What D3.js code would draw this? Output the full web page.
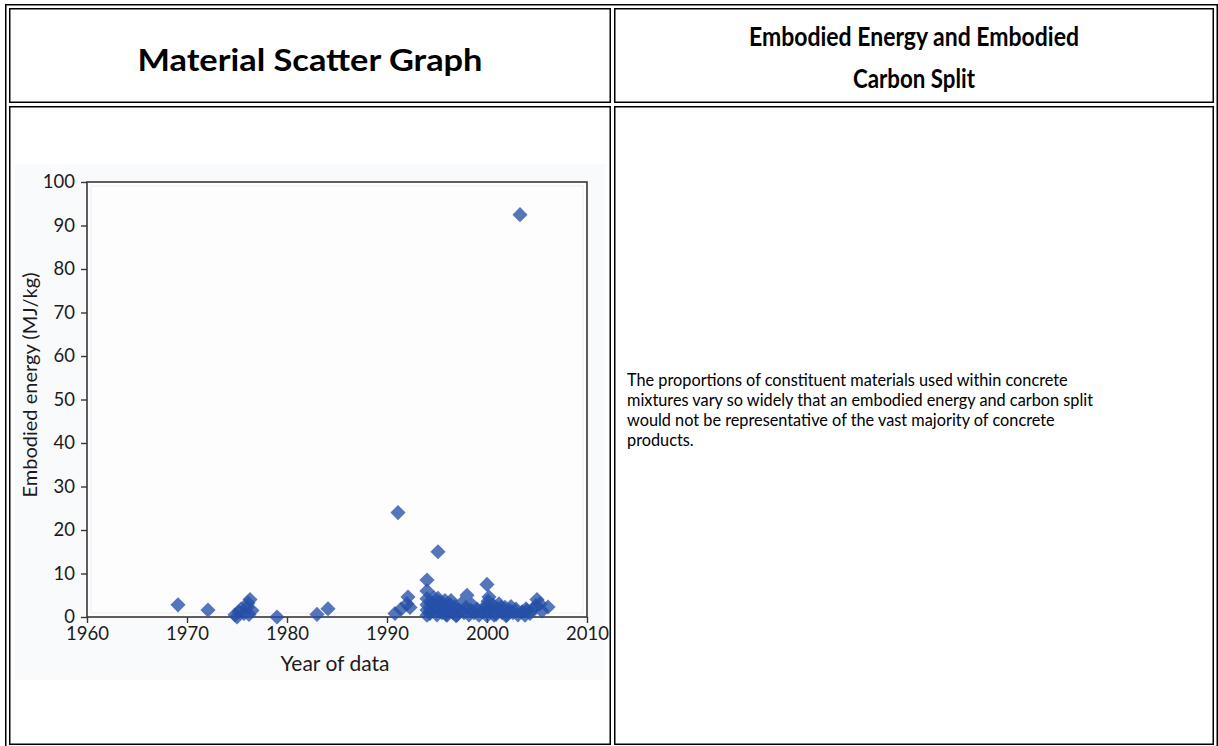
<!DOCTYPE html>
<html>
<head>
<meta charset="utf-8">
<script src="https://cdn.jsdelivr.net/npm/d3@7"></script>
<style>
  html, body { margin: 0; padding: 0; background: #fff; }
  svg { display: block; }
</style>
</head>
<body>
<svg id="page" width="1218" height="746"></svg>
<script>
// data: [year, embodied energy MJ/kg]
const early = [
  [1969.1, 2.8], [1972.1, 1.6],
  [1974.8, 0.5], [1975.0, 0], [1975.2, 1.2], [1975.4, 1.8], [1975.7, 0.8],
  [1976.0, 2.2], [1976.1, 3.2], [1976.3, 4.0], [1976.5, 1.5], [1976.2, 0.6],
  [1979.0, 0], [1983.0, 0.6], [1984.1, 1.9]
];
const nineties = [
  [1990.8, 0.8], [1991.1, 24], [1991.4, 1.8], [1992.0, 3.0], [1992.1, 4.6],
  [1992.3, 2.2],
  [1994.0, 0.4], [1994.0, 1.6], [1994.0, 2.8], [1994.0, 4.2], [1994.0, 6.0],
  [1994.0, 8.5], [1994.3, 0.8], [1994.5, 1.8], [1994.5, 3.2], [1994.7, 4.4],
  [1995.0, 0.5], [1995.0, 1.5], [1995.0, 2.6], [1995.1, 4.3], [1995.1, 15],
  [1995.3, 3.4], [1995.5, 1.0], [1995.6, 2.2], [1995.8, 3.8], [1995.9, 0.6],
  [1996.0, 0.4], [1996.1, 1.6], [1996.3, 2.8], [1996.4, 3.8], [1996.6, 1.0],
  [1996.8, 2.4], [1996.9, 0.3],
  [1997.0, 0.5], [1997.2, 1.6], [1997.4, 3.0], [1997.7, 1.0], [1997.9, 2.2],
  [1998.0, 5.0], [1998.2, 0.5], [1998.4, 1.6], [1998.5, 2.8], [1998.7, 1.0],
  [1999.0, 1.8], [1999.2, 0.4], [1999.5, 1.2], [1999.7, 2.2]
];
const noughties = [
  [2000.0, 0.3], [2000.0, 1.2], [2000.0, 2.4], [2000.1, 3.6], [2000.0, 7.5],
  [2000.2, 4.6], [2000.4, 1.6], [2000.6, 2.8], [2000.7, 0.4], [2000.9, 0.6],
  [2001.0, 1.8], [2001.2, 3.0], [2001.4, 2.2], [2001.5, 1.0], [2001.8, 2.2],
  [2001.9, 0.3], [2002.0, 0.5], [2002.3, 1.5], [2002.4, 2.4], [2002.6, 1.0],
  [2002.9, 1.8], [2003.1, 0.5], [2003.3, 92.5], [2003.5, 1.2], [2003.8, 0.4],
  [2003.9, 1.9], [2004.0, 1.5], [2004.3, 0.8], [2004.6, 1.8], [2004.9, 2.6],
  [2005.0, 4.0], [2005.3, 3.0], [2005.5, 1.4], [2006.1, 2.3]
];
const points = early.concat(nineties, noughties);

const xTicks = [1960, 1970, 1980, 1990, 2000, 2010];
const yTicks = [0, 10, 20, 30, 40, 50, 60, 70, 80, 90, 100];

const headerLeft = ['Material Scatter Graph'];
const headerRight = ['Embodied Energy and Embodied', 'Carbon Split'];
const noteLines = [
  'The proportions of constituent materials used within concrete',
  'mixtures vary so widely that an embodied energy and carbon split',
  'would not be representative of the vast majority of concrete',
  'products.'
];

const svg = d3.select('#page');

//table borders (double lines like a word table)
const cells = [
  {x: 9.75, y: 8.75, w: 600.5, h: 93.5},
  {x: 614.75, y: 8.75, w: 598.5, h: 93.5},
  {x: 9.75, y: 106.75, w: 600.5, h: 637.5},
  {x: 614.75, y: 106.75, w: 598.5, h: 637.5}
];
svg.append('rect')
  .attr('x', 5.75).attr('y', 4.75)
  .attr('width', 1211.5).attr('height', 744)
  .attr('fill', 'none').attr('stroke', '#000').attr('stroke-width', 1.5);
svg.selectAll('rect.cell')
  .data(cells)
  .enter().append('rect')
  .classed('cell', true)
  .attr('x', d => d.x).attr('y', d => d.y)
  .attr('width', d => d.w).attr('height', d => d.h)
  .attr('fill', 'none').attr('stroke', '#000').attr('stroke-width', 1.5);

//headers (narrowed a bit, the original face is condensed)
const headFont = 'Lato, "Open Sans", sans-serif';
svg.append('text')
  .attr('x', 310).attr('y', 71)
  .attr('text-anchor', 'middle')
  .attr('textLength', 345)
  .attr('lengthAdjust', 'spacingAndGlyphs')
  .style('font-family', headFont).style('font-weight', 'bold')
  .style('font-size', '30px')
  .text(headerLeft[0]);
const rightWidths = [330, 122];
svg.append('text')
  .attr('text-anchor', 'middle')
  .style('font-family', headFont).style('font-weight', 'bold')
  .style('font-size', '26px')
  .selectAll('tspan')
  .data(headerRight)
  .enter().append('tspan')
  .attr('x', 914)
  .attr('y', (d, i) => 46 + i * 42)
  .attr('textLength', (d, i) => rightWidths[i])
  .attr('lengthAdjust', 'spacingAndGlyphs')
  .text(d => d);

//note in the right cell
svg.append('text')
  .style('font-family', headFont)
  .style('font-size', '16.3px')
  .attr('fill', '#000')
  .selectAll('tspan')
  .data(noteLines)
  .enter().append('tspan')
  .attr('x', 627)
  .attr('y', (d, i) => 386 + i * 20)
  .text(d => d);

//scatter chart (scanned image look)
svg.append('rect')
  .attr('x', 15).attr('y', 164)
  .attr('width', 590).attr('height', 516)
  .attr('fill', '#f9fafc');

const x = d3.scaleLinear().domain([1960, 2010]).range([87, 587]);
const y = d3.scaleLinear().domain([0, 100]).range([617, 182]);

const chart = svg.append('g').attr('class', 'chart');
const axisColor = '#3b3535';
const tickFont = 'Lato, "DejaVu Sans", sans-serif';

chart.append('rect')
  .attr('x', x(1960)).attr('y', y(100))
  .attr('width', x(2010) - x(1960)).attr('height', y(0) - y(100))
  .attr('fill', '#fdfdfe')
  .attr('stroke', axisColor).attr('stroke-width', 1.6);
chart.append('rect')
  .attr('x', x(1960) + 4).attr('y', y(100) + 4)
  .attr('width', x(2010) - x(1960) - 8).attr('height', y(0) - y(100) - 8)
  .attr('fill', 'none')
  .attr('stroke', '#eceef2').attr('stroke-width', 1);

const yAxis = chart.append('g')
  .attr('transform', `translate(${x(1960)},0)`)
  .call(d3.axisLeft(y).tickValues(yTicks).tickSize(6).tickPadding(6).tickFormat(d3.format('d')));
const xAxis = chart.append('g')
  .attr('transform', `translate(0,${y(0)})`)
  .call(d3.axisBottom(x).tickValues(xTicks).tickSize(6).tickPadding(3).tickFormat(d3.format('d')));

[yAxis, xAxis].forEach(a => {
  a.select('.domain').remove();
  a.selectAll('line').attr('stroke', axisColor).attr('stroke-width', 1.4);
  a.selectAll('text')
    .attr('fill', '#1e1a1a')
    .style('font-family', tickFont)
    .style('font-size', '18.5px');
});
xAxis.selectAll('text').attr('dy', '0.78em');

chart.append('text')
  .attr('transform', `translate(37,385) rotate(-90)`)
  .attr('text-anchor', 'middle')
  .attr('fill', '#1e1a1a')
  .style('font-family', tickFont)
  .style('font-size', '20px')
  .text('Embodied energy (MJ/kg)');
chart.append('text')
  .attr('x', 335).attr('y', 671)
  .attr('text-anchor', 'middle')
  .attr('fill', '#1e1a1a')
  .style('font-family', tickFont)
  .style('font-size', '21px')
  .text('Year of data');

//diamonds
const diamond = d3.symbol().type(d3.symbolSquare).size(115);
chart.append('g')
  .selectAll('path')
  .data(points)
  .enter().append('path')
  .attr('d', diamond)
  .attr('transform', d => `translate(${x(d[0])},${y(d[1])}) rotate(45)`)
  .attr('fill', '#2550a8')
  .attr('fill-opacity', 0.78);
</script>
</body>
</html>
